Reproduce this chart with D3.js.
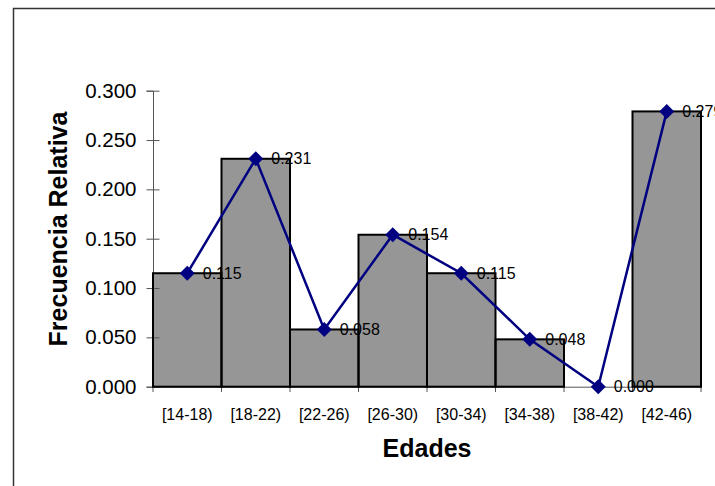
<!DOCTYPE html>
<html><head><meta charset="utf-8">
<script src="https://cdn.jsdelivr.net/npm/d3@7"></script>
<style>body{margin:0;background:#fff}svg{display:block}text{font-family:"Liberation Sans",Arial,sans-serif}</style>
</head><body><svg id="c" width="715" height="486"></svg>
<script>
const categories = ["[14-18)","[18-22)","[22-26)","[26-30)","[30-34)","[34-38)","[38-42)","[42-46)"];
const values = [0.115,0.231,0.058,0.154,0.115,0.048,0.000,0.279];
const yTicks = [0,0.05,0.1,0.15,0.2,0.25,0.3];
const xTitle = "Edades";
const yTitle = "Frecuencia Relativa";

const data = categories.map((c,i)=>({c, v: values[i]}));
const svg = d3.select("#c");
const x = d3.scaleBand().domain(categories).range([153,701]).padding(0);
const y = d3.scaleLinear().domain([0,0.3]).range([386.7,90.7]);
const fmt = d3.format(".3f");
const cx = d => x(d.c) + x.bandwidth()/2;

// outer border (top & left)
svg.append("path").attr("d","M13.5,486V8.5H715").attr("fill","none").attr("stroke","#333").attr("stroke-width",1.5);

// bar fills
svg.append("g").selectAll("rect").data(data).join("rect")
  .attr("x",d=>x(d.c)).attr("y",d=>y(d.v))
  .attr("width",x.bandwidth()).attr("height",d=>y(0)-y(d.v))
  .attr("fill","#969696");

// y axis
const yAxis = svg.append("g").attr("transform","translate(153,0)")
  .call(d3.axisLeft(y).tickValues(yTicks).tickFormat(fmt).tickSize(6.5).tickPadding(10));
yAxis.select(".domain").attr("stroke","#555");
yAxis.selectAll(".tick line").attr("stroke","#555").attr("x1",6.5).attr("x2",-6.5);
yAxis.selectAll(".tick text").attr("font-size","20.5px").attr("fill","#000").attr("font-family","Liberation Sans, Arial, sans-serif");

// x axis
const xAxis = svg.append("g").attr("transform","translate(0,386.7)")
  .call(d3.axisBottom(x).tickSize(0).tickPadding(22));
xAxis.select(".domain").attr("stroke","#555");
xAxis.selectAll(".tick text").attr("font-size","16px").attr("fill","#000").attr("font-family","Liberation Sans, Arial, sans-serif");
const bounds = categories.map(c=>x(c)).concat([x(categories[categories.length-1])+x.bandwidth()]);
svg.append("g").selectAll("line").data(bounds).join("line")
  .attr("x1",d=>d).attr("x2",d=>d).attr("y1",386.7).attr("y2",392)
  .attr("stroke","#555");

// data labels
svg.append("g").selectAll("text").data(data).join("text")
  .attr("x",d=>cx(d)+15.5)
  .attr("y",d=>y(d.v)).attr("dy","0.35em")
  .attr("font-size","16px").attr("fill","#000")
  .text(d=>fmt(d.v));

// bar outlines
svg.append("g").selectAll("rect").data(data.filter(d=>d.v>0)).join("rect")
  .attr("x",d=>x(d.c)).attr("y",d=>y(d.v))
  .attr("width",x.bandwidth()).attr("height",d=>y(0)-y(d.v))
  .attr("fill","none").attr("stroke","#000").attr("stroke-width",2);

// line
const line = d3.line().x(cx).y(d=>y(d.v));
svg.append("path").datum(data).attr("d",line)
  .attr("fill","none").attr("stroke","#000080").attr("stroke-width",2.5);

// markers
svg.append("g").selectAll("path").data(data).join("path")
  .attr("transform",d=>`translate(${cx(d)},${y(d.v)})`)
  .attr("d","M0,-7.5L7.5,0L0,7.5L-7.5,0Z").attr("fill","#000080");

// titles
svg.append("text").attr("x",427).attr("y",457).attr("text-anchor","middle")
  .attr("font-size","25px").attr("font-weight","bold").text(xTitle);
svg.append("text").attr("transform","translate(67,229) rotate(-90)").attr("text-anchor","middle")
  .attr("font-size","25px").attr("font-weight","bold").text(yTitle);
</script></body></html>
